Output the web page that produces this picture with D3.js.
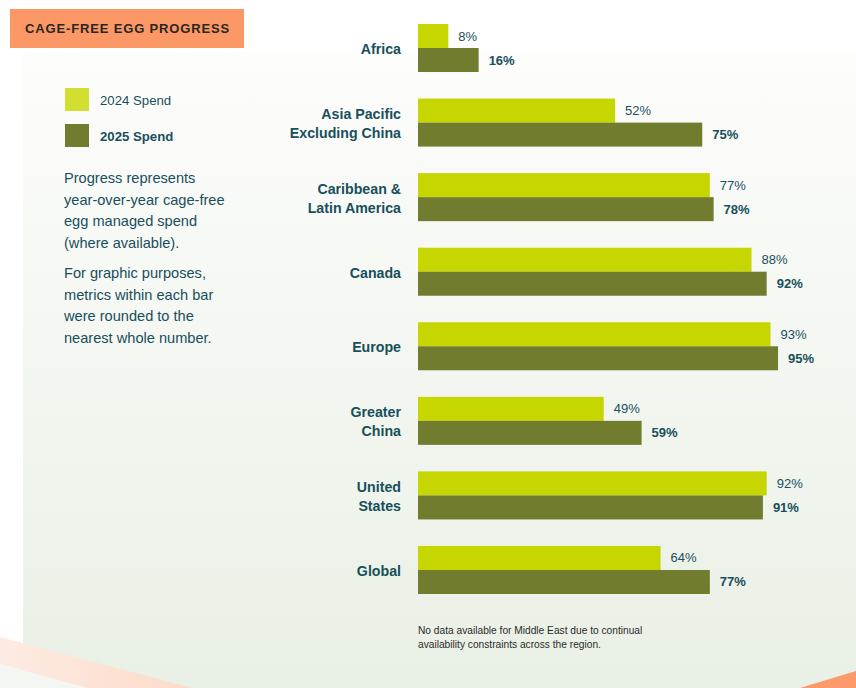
<!DOCTYPE html>
<html><head><meta charset="utf-8">
<script src="https://cdn.jsdelivr.net/npm/d3@7"></script>
<style>html,body{margin:0;padding:0;background:#fff;}svg{display:block;}</style>
</head><body>
<script>
const categories = [["Africa"],["Asia Pacific","Excluding China"],["Caribbean &","Latin America"],["Canada"],["Europe"],["Greater","China"],["United","States"],["Global"]];
const spend2024 = [8,52,77,88,93,49,92,64];
const spend2025 = [16,75,78,92,95,59,91,77];
const seriesNames = ["2024 Spend","2025 Spend"];
const notes = [["Progress represents","year-over-year cage-free","egg managed spend","(where available)."],["For graphic purposes,","metrics within each bar","were rounded to the","nearest whole number."]];
const footnote = ["No data available for Middle East due to continual","availability constraints across the region."];

const W=856,H=688;
const teal="#184f5c", c24="#c5d600", c25="#717c2f";
const svg=d3.select("body").append("svg").attr("width",W).attr("height",H);
const defs=svg.append("defs");
const g1=defs.append("linearGradient").attr("id","bg").attr("x1",0).attr("y1",0).attr("x2",0).attr("y2",1);
g1.append("stop").attr("offset","0%").attr("stop-color","#fdfdfc");
g1.append("stop").attr("offset","100%").attr("stop-color","#e9f0e5");
const g2=defs.append("linearGradient").attr("id","stripe").attr("x1",0).attr("y1",0).attr("x2",1).attr("y2",0);
g2.append("stop").attr("offset","0%").attr("stop-color","#fdebe3");
g2.append("stop").attr("offset","100%").attr("stop-color","#fddbc9");

svg.append("rect").attr("x",23).attr("y",53).attr("width",W-23).attr("height",H-53).attr("fill","url(#bg)");
svg.append("polygon").attr("points","0,664 0,688 88,688").attr("fill","#f4f7f1");
svg.append("polygon").attr("points","0,637 192,688 88,688 0,664").attr("fill","url(#stripe)");
svg.append("polygon").attr("points","856,671 856,688 800,688").attr("fill","#fc9a6c");

// title
svg.append("rect").attr("x",10).attr("y",9).attr("width",234).attr("height",39).attr("fill","#fc9866");
svg.append("text").attr("x",25).attr("y",33).text("CAGE-FREE EGG PROGRESS")
  .attr("font-family","Liberation Sans, Arial, sans-serif").attr("font-weight","bold").attr("font-size",13)
  .attr("letter-spacing",0.85).attr("fill","#2a2622");

// legend
const leg=svg.append("g");
seriesNames.forEach((n,i)=>{
  leg.append("rect").attr("x",65).attr("y",88+i*36).attr("width",24).attr("height",23).attr("fill",i?c25:"#d2df30");
  leg.append("text").attr("x",100).attr("y",105+i*36).text(n).attr("font-family","Liberation Sans, Arial, sans-serif")
    .attr("font-size",13.2).attr("font-weight",i?"bold":"normal").attr("fill",teal);
});
// notes
const nb=[183,278];
notes.forEach((p,pi)=>{
  p.forEach((l,li)=>svg.append("text").attr("x",64).attr("y",nb[pi]+li*21.5).text(l)
    .attr("font-family","Liberation Sans, Arial, sans-serif").attr("font-size",14.6).attr("fill",teal));
});

// chart
const keys=categories.map(c=>c.join(" "));
const y=d3.scaleBand().domain(keys).range([24,594]).paddingInner(0.356);
const x=d3.scaleLinear().domain([0,100]).range([418,797]);
const sub=d3.scaleBand().domain([0,1]).range([0,y.bandwidth()]);
const data=keys.map((k,i)=>({k,lines:categories[i],v:[spend2024[i],spend2025[i]]}));
const grp=svg.append("g").selectAll("g").data(data).join("g").attr("transform",d=>`translate(0,${y(d.k)})`);
grp.selectAll("rect").data(d=>d.v).join("rect")
  .attr("x",x(0)).attr("y",(v,i)=>sub(i)).attr("height",sub.bandwidth()).attr("width",v=>x(v)-x(0))
  .attr("fill",(v,i)=>i?c25:c24);
grp.selectAll("text.val").data(d=>d.v).join("text").attr("class","val")
  .attr("x",v=>x(v)+10).attr("y",(v,i)=>sub(i)+sub.bandwidth()/2+4.5).text(v=>v+"%")
  .attr("font-family","Liberation Sans, Arial, sans-serif").attr("font-size",13)
  .attr("font-weight",(v,i)=>i?"bold":"normal").attr("fill",teal);
grp.each(function(d){
  const n=d.lines.length;
  d.lines.forEach((l,li)=>d3.select(this).append("text").attr("x",401).attr("text-anchor","end")
    .attr("y",y.bandwidth()/2+6+(li-(n-1)/2)*19).text(l)
    .attr("font-family","Liberation Sans, Arial, sans-serif").attr("font-size",14.2).attr("font-weight","bold").attr("fill",teal));
});
footnote.forEach((l,i)=>svg.append("text").attr("x",418).attr("y",634+i*14).text(l)
  .attr("font-family","Liberation Sans, Arial, sans-serif").attr("font-size",10.2).attr("fill","#2b2b2b"));
</script>
</body></html>
